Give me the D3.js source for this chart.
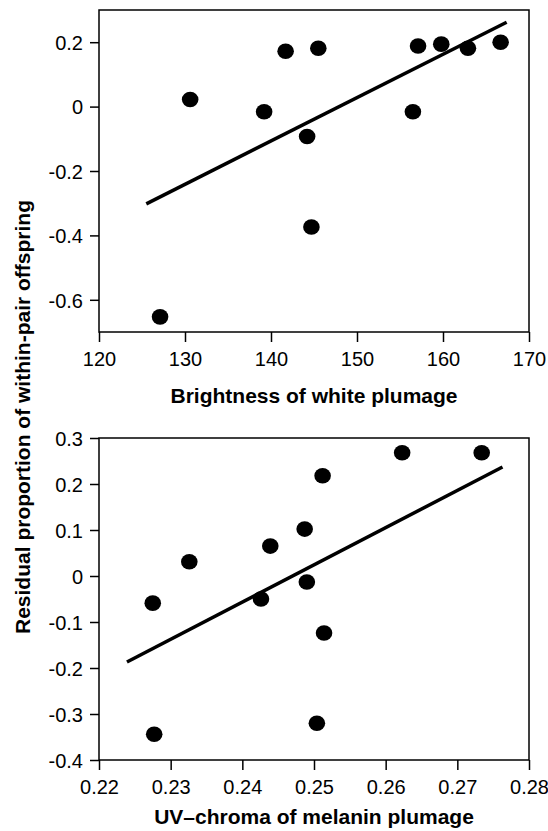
<!DOCTYPE html>
<html>
<head>
<meta charset="utf-8">
<script src="https://cdn.jsdelivr.net/npm/d3@7"></script>
<style>
  body { margin: 0; background: #fff; }
  text { font-family: "Liberation Sans", Arial, sans-serif; fill: #000; }
  .lbl { font-weight: bold; font-size: 21px; }
  .tick text { font-size: 20px; }
</style>
</head>
<body>
<svg width="548" height="831"></svg>
<script>
// top panel: brightness of white plumage
const brightX = [127.1, 130.6, 139.2, 141.7, 145.5, 157.1, 159.8, 162.9, 166.7, 156.5, 144.2, 144.7];
const brightY = [-0.653, 0.022, -0.016, 0.172, 0.181, 0.188, 0.194, 0.181, 0.200, -0.016, -0.093, -0.374];
const brightFitX = [125.5, 167.4];
const brightFitY = [-0.302, 0.262];
const brightXTicks = [120, 130, 140, 150, 160, 170];
const brightYTicks = [-0.6, -0.4, -0.2, 0, 0.2];

// bottom panel: UV-chroma of melanin plumage
const chromaX = [0.2275, 0.2326, 0.2426, 0.2439, 0.2512, 0.2487, 0.2490, 0.2623, 0.2734, 0.2514, 0.2504, 0.2277];
const chromaY = [-0.059, 0.031, -0.050, 0.065, 0.218, 0.102, -0.013, 0.268, 0.268, -0.124, -0.320, -0.344];
const chromaFitX = [0.2239, 0.2763];
const chromaFitY = [-0.187, 0.237];
const chromaXTicks = [0.22, 0.23, 0.24, 0.25, 0.26, 0.27, 0.28];
const chromaYTicks = [-0.4, -0.3, -0.2, -0.1, 0, 0.1, 0.2, 0.3];

const svg = d3.select('svg');
const left = 99, right = 529;

const fmt = dec => d => Math.abs(d) < 1e-9 ? '0' : d.toFixed(dec);

const panel = (o) => {
  const x = d3.scaleLinear().domain(o.xDom).range([left, right]);
  const y = d3.scaleLinear().domain(o.yDom).range([o.bottom, o.top]);
  const g = svg.append('g');

  // frame
  g.append('rect')
    .attr('x', left).attr('y', o.top)
    .attr('width', right - left).attr('height', o.bottom - o.top)
    .attr('fill', 'none').attr('stroke', '#000').attr('stroke-width', 1.5);

  const xAxis = g.append('g')
    .attr('transform', `translate(0,${o.bottom})`)
    .call(d3.axisBottom(x).tickValues(o.xTicks).tickFormat(fmt(o.xDec)).tickSize(10).tickPadding(10));
  const yAxis = g.append('g')
    .attr('transform', `translate(${left},0)`)
    .call(d3.axisLeft(y).tickValues(o.yTicks).tickFormat(fmt(1)).tickSize(9).tickPadding(7));
  [xAxis, yAxis].forEach(a => {
    a.select('.domain').remove();
    a.selectAll('line').attr('stroke-width', 1.5);
    a.selectAll('text').attr('font-family', null).attr('font-size', null);
  });
  yAxis.selectAll('text').attr('dy', '0.36em');

  g.append('line')
    .attr('x1', x(o.fitX[0])).attr('y1', y(o.fitY[0]))
    .attr('x2', x(o.fitX[1])).attr('y2', y(o.fitY[1]))
    .attr('stroke', '#000').attr('stroke-width', 3.5);

  g.selectAll('ellipse').data(o.xs)
    .enter().append('ellipse')
    .attr('cx', d => x(d))
    .attr('cy', (d, i) => y(o.ys[i]))
    .attr('rx', 8.3).attr('ry', 7.8)
    .attr('fill', '#000');

  g.append('text')
    .attr('class', 'lbl')
    .attr('x', (left + right) / 2)
    .attr('y', o.titleY)
    .attr('text-anchor', 'middle')
    .text(o.title);
};

panel({
  xs: brightX, ys: brightY, fitX: brightFitX, fitY: brightFitY,
  xDom: [120, 170], yDom: [-0.7, 0.3], top: 10, bottom: 332,
  xTicks: brightXTicks, yTicks: brightYTicks, xDec: 0,
  title: 'Brightness of white plumage', titleY: 403
});

panel({
  xs: chromaX, ys: chromaY, fitX: chromaFitX, fitY: chromaFitY,
  xDom: [0.22, 0.28], yDom: [-0.4, 0.3], top: 438, bottom: 760,
  xTicks: chromaXTicks, yTicks: chromaYTicks, xDec: 2,
  title: 'UV\u2013chroma of melanin plumage', titleY: 824
});

// shared y title
svg.append('text')
  .attr('class', 'lbl')
  .attr('transform', 'translate(30,417) rotate(-90)')
  .attr('text-anchor', 'middle')
  .text('Residual proportion of within-pair offspring');
</script>
</body>
</html>
